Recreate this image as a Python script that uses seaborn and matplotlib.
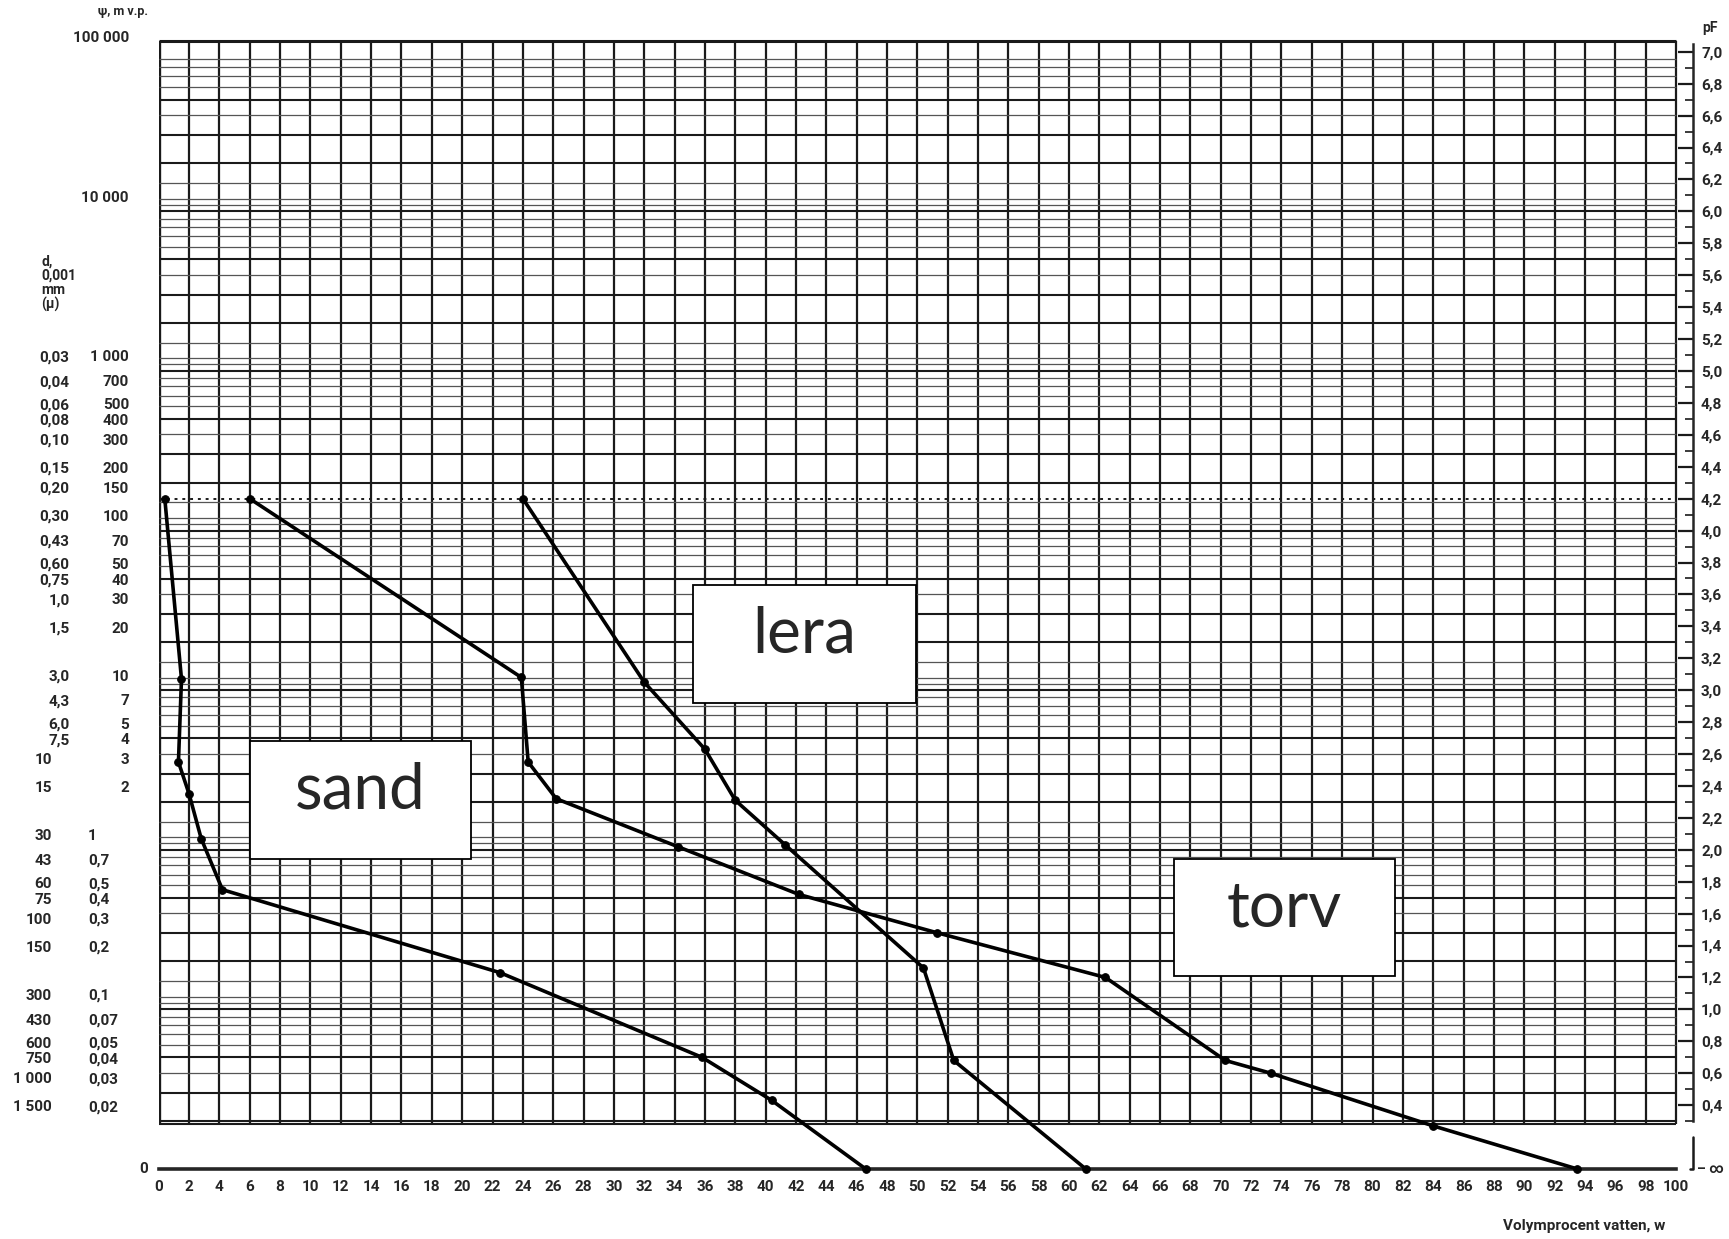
import numpy as np
import pandas as pd
import matplotlib
matplotlib.use("Agg")
import matplotlib.pyplot as plt
import matplotlib.transforms as mtransforms
from matplotlib.patches import Rectangle
import seaborn as sns

# pF-kurvor, avlasta ur diagrammet (volymprocent vatten w, pF)
sand_w = [0.4, 1.5, 1.3, 2.0, 2.8, 4.2, 22.5, 35.8, 40.4, 46.6]
sand_pf = [4.2, 3.07, 2.55, 2.35, 2.07, 1.75, 1.23, 0.70, 0.43, 0.0]
lera_w = [24.0, 32.0, 36.0, 38.0, 41.3, 50.4, 52.4, 61.1]
lera_pf = [4.2, 3.05, 2.63, 2.31, 2.03, 1.26, 0.68, 0.0]
torv_w = [6.0, 23.9, 24.35, 26.2, 34.2, 42.2, 51.3, 62.4, 70.3, 73.3, 84.0, 93.5]
torv_pf = [4.2, 3.08, 2.55, 2.32, 2.02, 1.72, 1.48, 1.20, 0.68, 0.60, 0.27, 0.0]

# vansterskalor: vattenpelare (m) och porstorlek d (0,001 mm)
psi_m = [100000, 10000, 1000, 700, 500, 400, 300, 200, 150, 100, 70, 50, 40,
         30, 20, 10, 7, 5, 4, 3, 2, 1, 0.7, 0.5, 0.4, 0.3, 0.2, 0.1, 0.07,
         0.05, 0.04, 0.03, 0.02]
psi_labels = ["100 000", "10 000", "1 000", "700", "500", "400", "300", "200",
              "150", "100", "70", "50", "40", "30", "20", "10", "7", "5", "4",
              "3", "2", "1", "0,7", "0,5", "0,4", "0,3", "0,2", "0,1", "0,07",
              "0,05", "0,04", "0,03", "0,02"]
d_labels = ["0,03", "0,04", "0,06", "0,08", "0,10", "0,15", "0,20", "0,30",
            "0,43", "0,60", "0,75", "1,0", "1,5", "3,0", "4,3", "6,0", "7,5",
            "10", "15", "30", "43", "60", "75", "100", "150", "300", "430",
            "600", "750", "1 000", "1 500"]

# etiketter i rutor: text, x0, y0, bredd, hojd (data)
boxes = [("sand", 6.0, 1.94, 14.6, 0.74),
         ("lera", 35.2, 2.92, 14.7, 0.74),
         ("torv", 66.9, 1.21, 14.6, 0.73)]

sns.set_style("white")
plt.rcParams["font.family"] = ["Roboto", "DejaVu Sans"]

df = pd.concat([
    pd.DataFrame({"w": sand_w, "pF": sand_pf, "jord": "sand"}),
    pd.DataFrame({"w": lera_w, "pF": lera_pf, "jord": "lera"}),
    pd.DataFrame({"w": torv_w, "pF": torv_pf, "jord": "torv"}),
])

fig = plt.figure(figsize=(17.29, 12.39), dpi=100)
ax = fig.add_axes([0.0918, 0.0565, 0.8907, 0.9146])
ax.set_xlim(0, 101.5)
ax.set_ylim(0, 7.1)

# rutnat
ink = "#1a1a1a"
ax.vlines(np.arange(0, 101, 2), 0.28, 7.07, color=ink, lw=1.6, zorder=1)
ax.vlines([0], 0.28, 7.07, color=ink, lw=2.4, zorder=1)
for n in range(7):
    for k in [1, 1.1, 1.2, 1.5, 2, 3, 4, 5, 6, 7, 8, 9]:
        y = n + np.log10(k)
        if 0.28 <= y <= 7.05:
            strong = k in [1, 2, 3, 5]
            ax.hlines(y, 0, 100, color=ink if strong else "#555555",
                      lw=1.5 if strong else 0.9, zorder=1)
ax.hlines(7.07, 0, 100, color=ink, lw=2.2, zorder=1)
ax.hlines(0.28, 0, 100, color=ink, lw=1.5, zorder=1)
ax.hlines(4.2, 0, 100, color=ink, lw=1.4, ls=(0, (1.5, 2.5)), zorder=2)

sns.lineplot(data=df, x="w", y="pF", units="jord", estimator=None, sort=False,
             color="black", lw=2.6, marker="o", markersize=5.5,
             markeredgecolor="black", ax=ax, zorder=4, clip_on=False)

# x-axel med kort skala
for side in ["top", "right", "left"]:
    ax.spines[side].set_visible(False)
ax.spines["bottom"].set_linewidth(2.6)
ax.spines["bottom"].set_bounds(0, 100)
ax.set_xticks(np.arange(0, 101, 2))
ax.set_xticks(np.arange(1, 100, 2), minor=True)
ax.tick_params(axis="x", which="major", direction="in", length=20, width=1.4,
               labelsize=11, pad=8, color=ink)
ax.tick_params(axis="x", which="minor", direction="in", length=7, width=1.2,
               color=ink)
for lab in ax.get_xticklabels():
    lab.set_fontweight("bold")
ax.set_yticks([])
ax.set_xlabel("")
ax.set_ylabel("")

# pF-skala till hoger
ax2 = ax.twinx()
ax2.set_ylim(0, 7.1)
for side in ["top", "left", "bottom"]:
    ax2.spines[side].set_visible(False)
ax2.spines["right"].set_position(("data", 101.1))
ax2.spines["right"].set_bounds(0.3, 7.05)
ax2.spines["right"].set_linewidth(1.8)
pf_ticks = np.round(np.arange(0.4, 7.01, 0.2), 1)
ax2.set_yticks(pf_ticks)
ax2.set_yticklabels([f"{v:.1f}".replace(".", ",") for v in pf_ticks],
                    fontsize=11, fontweight="bold")
ax2.set_yticks(np.round(np.arange(0.3, 7.01, 0.1), 1), minor=True)
ax2.tick_params(axis="y", which="major", direction="in", length=11, width=1.6,
                pad=6, color=ink)
ax2.tick_params(axis="y", which="minor", direction="in", length=6, width=1.2,
                color=ink)
ax.plot([100.9, 101.1, 101.1], [0.0, 0.0, 0.2], color=ink, lw=1.8, clip_on=False)
ax.text(101.4, 0.0, "– ∞", fontsize=10, fontweight="bold", va="center",
        ha="left", clip_on=False)
ax.text(101.7, 7.15, "pF", fontsize=10, fontweight="bold", va="center",
        ha="left", clip_on=False)

# vansterskalor
trans = mtransforms.blended_transform_factory(fig.transFigure, ax.transData)
off = 0.085
for val, lab in zip(psi_m, psi_labels):
    y = np.log10(val * 100) + off
    if val >= 2:
        ax.text(0.0746, y, lab, transform=trans, ha="right", va="center",
                fontsize=11, fontweight="bold")
    else:
        ax.text(0.051, y, lab, transform=trans, ha="left", va="center",
                fontsize=11, fontweight="bold")
for val, lab in zip(psi_m[2:], d_labels):
    y = np.log10(val * 100) + off
    x = 0.0402 if "," in lab else 0.030
    ax.text(x, y, lab, transform=trans, ha="right", va="center",
            fontsize=11, fontweight="bold")
ax.text(0.0855, 0.0, "0", transform=trans, ha="right", va="center",
        fontsize=11, fontweight="bold")
ax.text(0.071, 7.25, "ψ, m v.p.", transform=trans, ha="center", va="center",
        fontsize=9, fontweight="bold")
ax.text(0.024, 5.55, "d,\n0,001\nmm\n(μ)", transform=trans, ha="left",
        va="center", fontsize=10, fontweight="bold", linespacing=1.0)

fig.text(0.963, 0.0105, "Volymprocent vatten, w", ha="right", va="center",
         fontsize=11, fontweight="bold")

# etikettrutor
for txt, x0, y0, bw, bh in boxes:
    ax.add_patch(Rectangle((x0, y0), bw, bh, facecolor="white",
                           edgecolor="black", lw=1.3, zorder=6))
    ax.text(x0 + bw / 2, y0 + bh / 2 + 0.06, txt, ha="center", va="center",
            fontsize=46, family=["Lato", "DejaVu Sans"], zorder=7)

plt.savefig("out.png", dpi=100)
plt.close()
